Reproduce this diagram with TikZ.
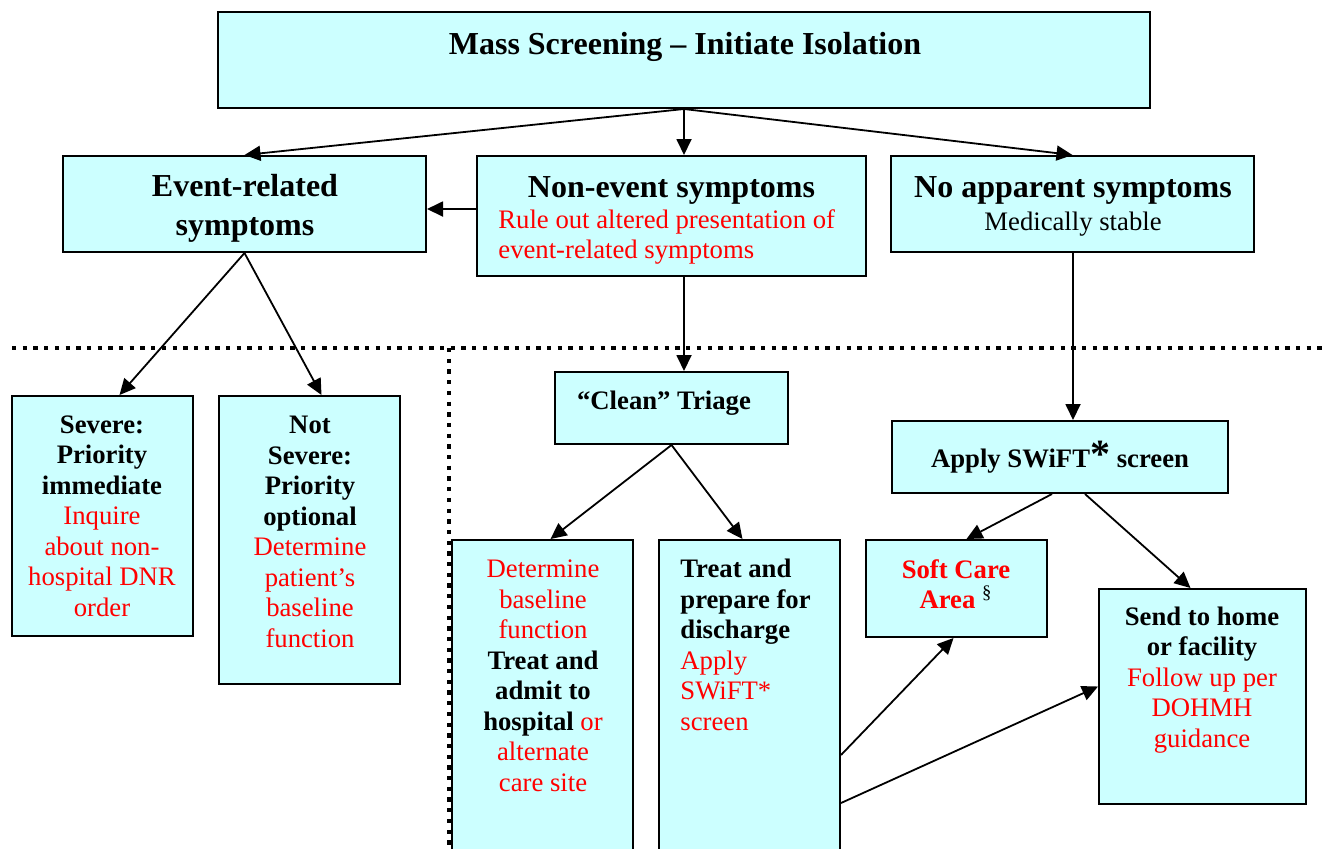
\documentclass[tikz,border=0pt]{standalone}
\usepackage{fontspec}
\setmainfont{Liberation Serif}
\usetikzlibrary{arrows.meta,calc}

\definecolor{BoxCyan}{RGB}{204,255,255}
\newcommand{\headfont}{\fontsize{16}{19.5}\selectfont\bfseries}
\newcommand{\bodyfont}{\fontsize{13.35}{15.25}\selectfont}
\newcommand{\redtxt}[1]{\textcolor{red}{#1}}
\newcommand{\bigstar}{{\fontsize{20}{20}\selectfont *}}

\begin{document}
\begin{tikzpicture}[x=0.5pt, y=-0.5pt,
  box/.style 2 args={draw=black, line width=1pt, fill=BoxCyan, inner sep=0pt,
                     minimum width=#1*0.5pt, minimum height=#2*0.5pt},
  txt/.style={inner sep=0pt, align=center, font=\bodyfont},
  head/.style={inner sep=0pt, align=center, font=\headfont},
  arr/.style={-{Triangle[length=8pt,width=7.5pt]}, line width=0.9pt},
  sep/.style={line width=2pt, dash pattern=on 2.15pt off 3.2pt}]

\useasboundingbox (0,0) rectangle (1322,848);

% Dotted separators
\draw[sep] (12,348) -- (1322,348);
\draw[sep] (449,348) -- (449,848);

% Boxes
\node[box={932}{96}]  (top)       at (684,60)      {};
\node[box={363}{96}]  (event)     at (244.5,204)   {};
\node[box={389}{120}] (nonevent)  at (671.5,216)   {};
\node[box={363}{96}]  (noapp)     at (1072.5,204)  {};
\node[box={181}{240}] (severe)    at (102.5,516)   {};
\node[box={181}{288}] (notsevere) at (309.5,540)   {};
\node[box={233}{72}]  (clean)     at (671.5,408)   {};
\node[box={181}{340}] (determine) at (542.5,710)   {};
\node[box={181}{340}] (treat)     at (749.5,710)   {};
\node[box={336}{72}]  (apply)     at (1060,457)    {};
\node[box={181}{97}]  (soft)      at (956.5,588.5) {};
\node[box={207}{215}] (send)      at (1202.5,696.5){};

% Labels
\node[head, anchor=base] (toptxt) at (685,54) {Mass Screening -- Initiate Isolation};
\node[head] (eventtxt) at (245,208) {Event-related\\symptoms};
\node[head, anchor=base] (nonhead) at (671.5,197) {Non-event symptoms};
\node[txt, align=left, anchor=west] (nontxt) at (498,237)
  {\redtxt{Rule out altered presentation of}\\\redtxt{event-related symptoms}};
\node[head, anchor=base] (noapphead) at (1073,197) {No apparent symptoms};
\node[txt, anchor=base] (noapptxt) at (1073,230) {Medically stable};

\node[txt] (severetxt) at (102,516)
  {\textbf{Severe:}\\\textbf{Priority}\\\textbf{immediate}\\\redtxt{Inquire}\\
   \redtxt{about non-}\\\redtxt{hospital DNR}\\\redtxt{order}};
\node[txt] (notseveretxt) at (310,532)
  {\textbf{Not}\\\textbf{Severe:}\\\textbf{Priority}\\\textbf{optional}\\
   \redtxt{Determine}\\\redtxt{patient’s}\\\redtxt{baseline}\\\redtxt{function}};
\node[txt, anchor=base] (cleantxt) at (664,409) {\textbf{“Clean” Triage}};
\node[txt] (determinetxt) at (543,676)
  {\redtxt{Determine}\\\redtxt{baseline}\\\redtxt{function}\\\textbf{Treat and}\\
   \textbf{admit to}\\\textbf{hospital} \redtxt{or}\\\redtxt{alternate}\\\redtxt{care site}};
\node[txt, align=left, anchor=west] (treattxt) at (680,645)
  {\textbf{Treat and}\\\textbf{prepare for}\\\textbf{discharge}\\\redtxt{Apply}\\
   \redtxt{SWiFT*}\\\redtxt{screen}};
\node[txt, anchor=base] (applytxt) at (1060,467) {\textbf{Apply SWiFT\bigstar{} screen}};
\node[txt] (softtxt) at (956,584)
  {\redtxt{\textbf{Soft Care}}\\\redtxt{\textbf{Area}} \textsuperscript{§}};
\node[txt] (sendtxt) at (1202,680)
  {\textbf{Send to home}\\\textbf{or facility}\\\redtxt{Follow up per}\\
   \redtxt{DOHMH}\\\redtxt{guidance}};

% Connectors
\draw[arr] (top.south) -- (event.north);
\draw[arr] (top.south) -- (top.south |- nonevent.north);
\draw[arr] (top.south) -- (noapp.north);
\draw[arr] ($(nonevent.west)+(0,-7)$) -- ($(event.east)+(0,5)$);
\draw[arr] (event.south) -- ($(severe.north)+(17,0)$);
\draw[arr] (event.south) -- ($(notsevere.north)+(12,0)$);
\draw[arr] (nonevent.south -| top.south) -- (clean.north -| top.south);
\draw[arr] ($(noapp.south)+(0.5,0)$) -- ($(noapp.south |- apply.north)+(0.5,0)$);
\draw[arr] (clean.south) -- ($(determine.north)+(8,0)$);
\draw[arr] (clean.south) -- ($(treat.north)+(-7,0)$);
\draw[arr] ($(apply.south)+(-8,0)$) -- ($(soft.north)+(10,0)$);
\draw[arr] ($(apply.south)+(25,0)$) -- ($(send.north)+(-12,0)$);
\draw[arr] ($(treat.east)+(0,45)$) -- ($(soft.south)+(-3,0)$);
\draw[arr] ($(treat.east)+(0,93)$) -- ($(send.west)+(0,-10)$);

\end{tikzpicture}
\end{document}
